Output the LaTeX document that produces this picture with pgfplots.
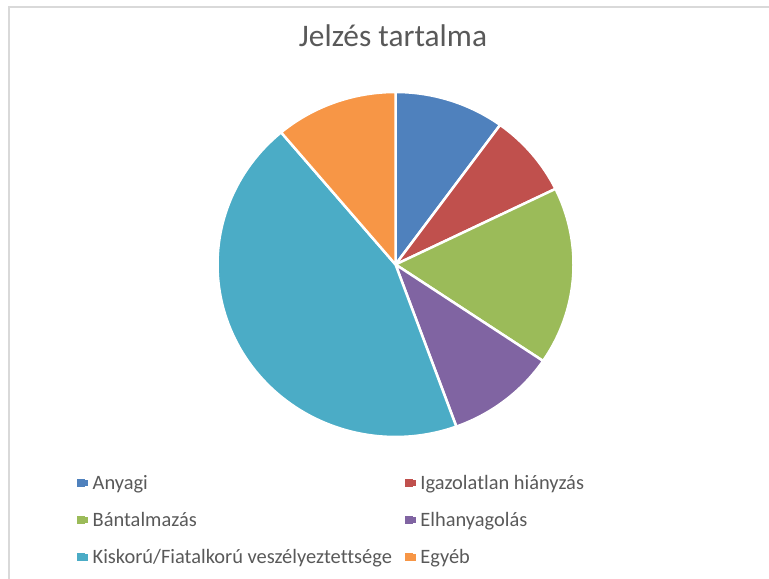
\documentclass[border=0pt]{standalone}
\usepackage{fontspec}
\setmainfont{Carlito}[Ligatures=NoCommon]
\usepackage{pgfplots}
\pgfplotsset{compat=1.18}

\definecolor{anyagi}{HTML}{4F81BD}
\definecolor{igazol}{HTML}{C0504D}
\definecolor{bantal}{HTML}{9BBB59}
\definecolor{elhany}{HTML}{8064A2}
\definecolor{kiskor}{HTML}{4BACC6}
\definecolor{egyeb}{HTML}{F79646}
\definecolor{txt}{HTML}{595959}

% pie geometry (px of the reference, y upwards)
\def\cx{395.5}\def\cy{314.5}\def\rx{178}\def\ry{172.5}
\def\total{90}
\def\cum{0}

% one slice: value, colour, legend text
\newcommand\pieslice[3]{%
  \pgfmathsetmacro\aStart{90-\cum/\total*360}%
  \pgfmathsetmacro\cumnew{\cum+#1}%
  \pgfmathsetmacro\aEnd{90-\cumnew/\total*360}%
  \xdef\cum{\cumnew}%
  \edef\temp{\noexpand\addplot[fill=#2, draw=white, line width=2.5bp, line join=round,
      domain=\aEnd:\aStart, samples=90]
    ({\cx+\rx*cos(x)},{\cy+\ry*sin(x)}) -- (\cx,\cy) -- cycle;}%
  \temp
  \addlegendentry{#3}%
}

\begin{document}
\begin{tikzpicture}
\begin{axis}[
    scale only axis,
    width=769bp, height=579bp,
    xmin=0, xmax=769, ymin=0, ymax=579,
    hide axis, clip=false,
    title={Jelzés tartalma},
    title style={at={(axis description cs:0.511,0.909)}, anchor=base,
        font=\fontsize{31.5}{36}\selectfont, text=txt},
    legend columns=2,
    legend cell align=left,
    legend image code/.code={\path (0bp,-4.5bp) rectangle (12bp,4.5bp);
        \fill[#1, draw=none, line width=0pt] (0bp,-4bp) rectangle (8bp,4bp);},
    legend style={draw=none, fill=none, at={(axis cs:76,106)}, anchor=north west,
        inner sep=0pt, row sep=17.5bp,
        font=\fontsize{20.5}{24}\selectfont, text=txt,
        /tikz/every even column/.append style={column sep=10bp}},
]
\pieslice{9}{anyagi}{Anyagi}
\pieslice{7}{igazol}{Igazolatlan hiányzás}
\pieslice{15}{bantal}{Bántalmazás}
\pieslice{9}{elhany}{Elhanyagolás}
\pieslice{40}{kiskor}{Kiskorú/Fiatalkorú veszélyeztettsége}
\pieslice{10}{egyeb}{Egyéb}
\draw[black!15, line width=2bp] (axis cs:8.5,0) -- (axis cs:8.5,571.5) -- (axis cs:769,571.5);
\end{axis}
\pgfresetboundingbox
\path (current axis.south west) rectangle (current axis.north east);
\end{tikzpicture}
\end{document}
